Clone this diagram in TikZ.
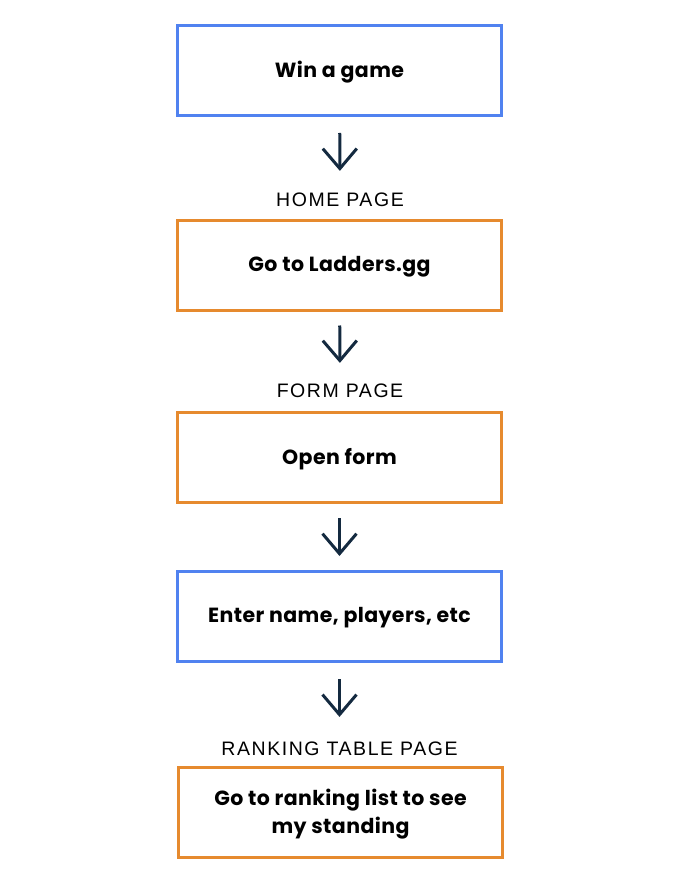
\documentclass[tikz,border=0pt]{standalone}
\usepackage{fontspec}
\usetikzlibrary{arrows.meta}
\newfontfamily\boxfont{Poppins}[LetterSpace=2]
\newfontfamily\pagefont{Liberation Sans}[LetterSpace=8]
\definecolor{flowblue}{RGB}{80,130,240}
\definecolor{floworange}{RGB}{230,138,46}
\definecolor{flownavy}{RGB}{20,42,64}
\tikzset{
  box/.style={draw, line width=3pt, minimum width=324pt, minimum height=90pt,
    align=center, text depth=3pt, font=\boxfont\bfseries\fontsize{20.5}{28}\selectfont},
  bluebox/.style={box, draw=flowblue},
  orangebox/.style={box, draw=floworange},
  pagelabel/.style={inner sep=0pt, font=\pagefont\fontsize{19.5}{24}\selectfont},
  flow/.style={draw=flownavy, line width=3pt,
    -{Straight Barb[length=20pt, width=34pt]}}
}
\begin{document}
\begin{tikzpicture}[x=1pt,y=-1pt]
      \useasboundingbox (0,0) rectangle (679,885);
      \draw
        (339.5,70.5) node[bluebox] (1){Win a game}
        (340,200) node[pagelabel] (h){HOME PAGE}
        (339.5,265.5) node[orangebox] (2){Go to Ladders.gg}
        (340,391) node[pagelabel] (f){FORM PAGE}
        (339.5,457.5) node[orangebox] (3){Open form}
        (339.5,616.5) node[bluebox] (4){Enter name, players, etc}
        (339.5,749) node[pagelabel] (r){RANKING TABLE PAGE}
        (340.5,812.5) node[orangebox] (5){Go to ranking list to see\\my standing};
      \begin{scope}[flow]
        \draw[shorten <=16pt, shorten >=22pt] (1) to (h);
        \draw[shorten <=13.5pt, shorten >=21pt] (2) to (f);
        \draw[shorten <=14pt, shorten >=14pt] (3) to (4);
        \draw[shorten <=16pt, shorten >=25pt] (4) to (r);
      \end{scope}
    \end{tikzpicture}
\end{document}
